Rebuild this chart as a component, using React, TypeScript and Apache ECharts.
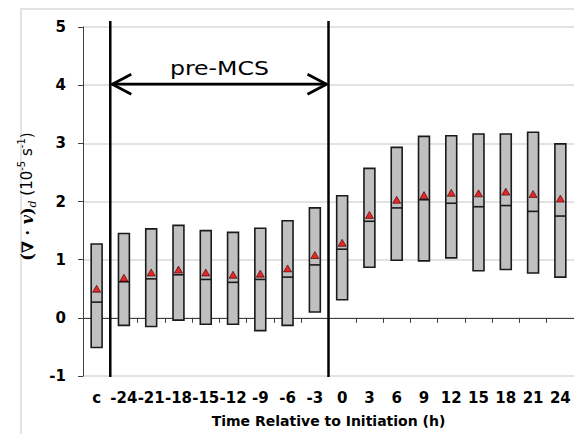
import React, { useEffect, useRef } from "react";
import * as echarts from "echarts";

const categories = ["c", "-24", "-21", "-18", "-15", "-12", "-9", "-6", "-3", "0", "3", "6", "9", "12", "15", "18", "21", "24"];
const lowValues = [-0.51, -0.13, -0.15, -0.04, -0.11, -0.11, -0.22, -0.13, 0.10, 0.31, 0.87, 0.99, 0.98, 1.03, 0.81, 0.83, 0.77, 0.70];
const highValues = [1.27, 1.45, 1.53, 1.59, 1.50, 1.47, 1.54, 1.67, 1.89, 2.10, 2.57, 2.93, 3.12, 3.13, 3.16, 3.16, 3.19, 2.99];
const medianValues = [0.27, 0.62, 0.67, 0.74, 0.66, 0.61, 0.66, 0.70, 0.91, 1.18, 1.66, 1.89, 2.03, 1.97, 1.91, 1.93, 1.83, 1.75];
const meanValues = [0.50, 0.69, 0.78, 0.83, 0.78, 0.74, 0.76, 0.85, 1.08, 1.29, 1.77, 2.03, 2.11, 2.15, 2.14, 2.17, 2.13, 2.05];
const dividerCategories = ["-24", "0"];
const arrowSpan = { from: "-24", to: "0", value: 4, label: "pre-MCS" };
const yTicks = { min: -1, max: 5, interval: 1 };

export default function App() {
  const ref = useRef<HTMLDivElement>(null);
  useEffect(() => {
    if (!ref.current) return;
    const chart = echarts.init(ref.current, undefined, { renderer: "svg" });
    const boxData = categories.map((_, i) => [i, lowValues[i], medianValues[i], highValues[i]]);
    const dividerData = dividerCategories.map((c) => [categories.indexOf(c), yTicks.min, yTicks.max]);
    const arrowData = [[categories.indexOf(arrowSpan.from), categories.indexOf(arrowSpan.to), arrowSpan.value]];
    const font = "'DejaVu Sans', sans-serif";
    chart.setOption({
      animation: false,
      backgroundColor: "#ffffff",
      graphic: [
        {
          type: "rect",
          z: -10,
          shape: { x: 21, y: 9, width: 600, height: 500 },
          style: { fill: "none", stroke: "#d9d9d9", lineWidth: 1.5 },
        },
      ],
      grid: { left: 83, right: -2, top: 27, bottom: 58, containLabel: false },
      xAxis: {
        type: "category",
        data: categories,
        boundaryGap: true,
        name: "Time Relative to Initiation (h)",
        nameLocation: "middle",
        nameGap: 38,
        nameTextStyle: { fontFamily: font, fontWeight: "bold", fontSize: 14, color: "#000" },
        axisLine: { lineStyle: { color: "#404040", width: 1 } },
        axisTick: { show: true, interval: 0, length: 5, lineStyle: { color: "#404040" } },
        axisLabel: { interval: 0, margin: 14, fontFamily: font, fontWeight: "bold", fontSize: 15, color: "#000" },
        splitLine: { show: false },
      },
      yAxis: {
        type: "value",
        min: yTicks.min,
        max: yTicks.max,
        interval: yTicks.interval,
        name: "{b|(∇ · }{bi|v}{b|)}{sub|d}{n| (10}{sup|-5}{n| s}{sup|-1}{n|)}",
        nameLocation: "middle",
        nameGap: 40,
        nameTextStyle: {
          padding: [0, 0, 0, 10],
          rich: {
            b: { fontFamily: "'DejaVu Serif', serif", fontWeight: "bold", fontSize: 16, color: "#000", lineHeight: 22, verticalAlign: "middle" },
            bi: { fontFamily: "'DejaVu Serif', serif", fontWeight: "bold", fontStyle: "italic", fontSize: 16, color: "#000", lineHeight: 22, verticalAlign: "middle" },
            sub: { fontFamily: "'DejaVu Serif', serif", fontStyle: "italic", fontSize: 11, color: "#000", lineHeight: 22, verticalAlign: "bottom" },
            n: { fontFamily: font, fontSize: 15, color: "#000", lineHeight: 22, verticalAlign: "middle" },
            sup: { fontFamily: font, fontSize: 10, color: "#000", lineHeight: 22, verticalAlign: "top" },
          },
        },
        axisLine: { show: true, lineStyle: { color: "#404040", width: 1 } },
        axisTick: { show: true, length: 5, lineStyle: { color: "#404040" } },
        axisLabel: { margin: 17, fontFamily: font, fontWeight: "bold", fontSize: 15, color: "#000" },
        splitLine: { show: true, lineStyle: { color: "#d9d9d9", width: 1.5 } },
      },
      series: [
        {
          type: "custom",
          name: "range",
          data: boxData,
          encode: { x: 0, y: [1, 2, 3] },
          z: 3,
          renderItem: (params: any, api: any) => {
            const x = api.value(0);
            const lo = api.coord([x, api.value(1)]);
            const md = api.coord([x, api.value(2)]);
            const hi = api.coord([x, api.value(3)]);
            const w = api.size([1, 0])[0] * 0.4;
            return {
              type: "group",
              children: [
                {
                  type: "rect",
                  shape: { x: hi[0] - w / 2, y: hi[1], width: w, height: lo[1] - hi[1] },
                  style: { fill: "#c0c0c0", stroke: "#1a1a1a", lineWidth: 1.6 },
                },
                {
                  type: "line",
                  shape: { x1: md[0] - w / 2, y1: md[1], x2: md[0] + w / 2, y2: md[1] },
                  style: { stroke: "#1a1a1a", lineWidth: 1.6 },
                },
              ],
            };
          },
        },
        {
          type: "scatter",
          name: "mean",
          data: meanValues,
          symbol: "triangle",
          symbolSize: [8, 7],
          z: 4,
          itemStyle: { color: "#ee0000", borderColor: "#400000", borderWidth: 0.8 },
        },
        {
          type: "custom",
          name: "dividers",
          data: dividerData,
          encode: { x: 0, y: [1, 2] },
          z: 5,
          silent: true,
          renderItem: (params: any, api: any) => {
            const idx = api.value(0);
            const half = api.size([1, 0])[0] / 2;
            const b = api.coord([idx, api.value(1)]);
            const t = api.coord([idx, api.value(2)]);
            const x = b[0] - half;
            return {
              type: "line",
              shape: { x1: x, y1: t[1] - 6, x2: x, y2: b[1] + 1 },
              style: { stroke: "#000", lineWidth: 2.5 },
            };
          },
        },
        {
          type: "custom",
          name: "arrow",
          data: arrowData,
          encode: { x: [0, 1], y: 2 },
          z: 6,
          silent: true,
          renderItem: (params: any, api: any) => {
            const half = api.size([1, 0])[0] / 2;
            const a = api.coord([api.value(0), api.value(2)]);
            const b = api.coord([api.value(1), api.value(2)]);
            const x1 = a[0] - half + 2;
            const x2 = b[0] - half - 2;
            const y = a[1] - 1;
            const st = { stroke: "#000", lineWidth: 2.8, fill: "none" };
            return {
              type: "group",
              children: [
                { type: "line", shape: { x1, y1: y, x2, y2: y }, style: st },
                { type: "polyline", shape: { points: [[x1 + 19, y - 10], [x1, y], [x1 + 19, y + 10]] }, style: st },
                { type: "polyline", shape: { points: [[x2 - 19, y - 10], [x2, y], [x2 - 19, y + 10]] }, style: st },
                {
                  type: "text",
                  x: (x1 + x2) / 2,
                  y: y - 16,
                  scaleX: 1.18,
                  style: {
                    text: arrowSpan.label,
                    x: 0,
                    y: 0,
                    align: "center",
                    verticalAlign: "middle",
                    fontFamily: font,
                    fontSize: 20,
                    fill: "#000",
                  },
                },
              ],
            };
          },
        },
      ],
    });
    return () => chart.dispose();
  }, []);
  return <div ref={ref} style={{ position: "fixed", left: 0, top: 0, width: 574, height: 434 }} />;
}
